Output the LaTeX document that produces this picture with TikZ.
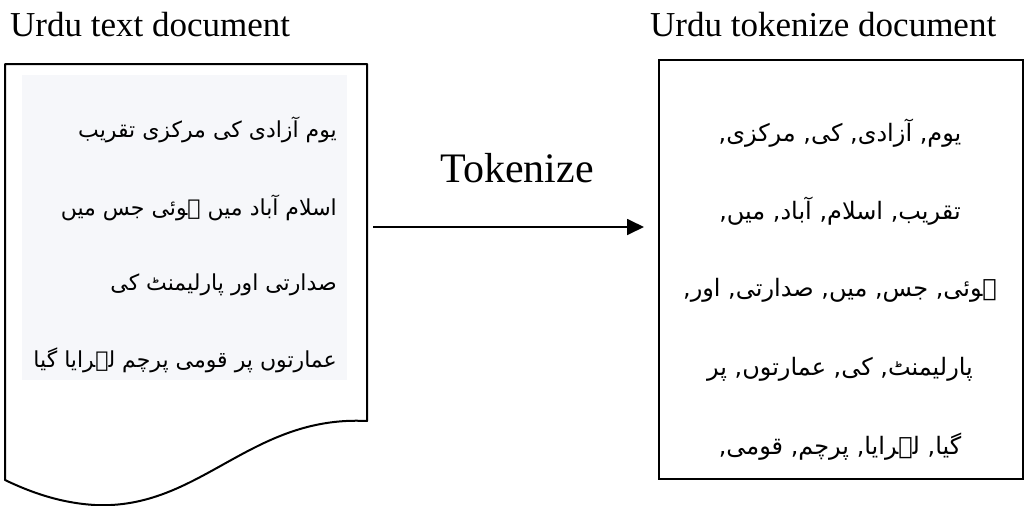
\documentclass[tikz,border=0pt]{standalone}
\usepackage{fontspec}
\setmainfont{Liberation Serif}
\newfontfamily\urdufont[Script=Arabic]{DejaVu Sans}
\TeXXeTstate=1
\usetikzlibrary{arrows.meta}
\definecolor{panelfill}{RGB}{246,247,250}
\begin{document}
\begin{tikzpicture}[x=1pt,y=-1pt,
  title/.style={font=\fontsize{35}{40}\selectfont, inner sep=0pt, anchor=base west},
  opname/.style={font=\fontsize{42}{46}\selectfont, inner sep=0pt, anchor=base},
  srcline/.style={font=\urdufont\fontsize{22}{26}\selectfont, inner sep=0pt},
  tokline/.style={font=\urdufont\fontsize{24}{28}\selectfont, inner sep=0pt},
  docedge/.style={draw=black, line width=2pt, line join=round},
  flow/.style={draw=black, line width=1.8pt, -{Triangle[length=17pt,width=16pt]}}]
\useasboundingbox (0,0) rectangle (1031,506);

% headings
\node[title] (srctitle) at (10,36) {Urdu text document};
\node[title] (dsttitle) at (650,36) {Urdu tokenize document};

% source document with wavy bottom edge
\draw[docedge, fill=white] (5,64) -- (367,64) -- (367,421)
  .. controls (250,415) and (200,510) .. (95,505)
  .. controls (60,503) and (30,492) .. (5,480) -- cycle;
\node[fill=panelfill, minimum width=325pt, minimum height=305pt, inner sep=0pt, anchor=north west]
  (srcpanel) at (22,75) {};
\coordinate (srcdoc-east) at (367,227);

% source text
\node[srcline, anchor=east] (s1) at (337,130) {\beginR یوم آزادی کی مرکزی تقریب\endR};
\node[srcline, anchor=east] (s2) at (337,208) {\beginR اسلام آباد میں ہوئی جس میں\endR};
\node[srcline, anchor=east] (s3) at (337,285) {\beginR صدارتی اور پارلیمنٹ کی\endR};
\node[srcline, anchor=east] (s4) at (337,360) {\beginR عمارتوں پر قومی پرچم لہرایا گیا\endR};

% tokenized document
\node[draw=black, line width=1.5pt, minimum width=364pt, minimum height=419pt, inner sep=0pt, anchor=north west]
  (tokbox) at (658,59) {};
\node[tokline] (t1) at (840,133) {\beginR یوم, آزادی, کی, مرکزی,\endR};
\node[tokline] (t2) at (840,211) {\beginR تقریب, اسلام, آباد, میں,\endR};
\node[tokline] (t3) at (840,290) {\beginR ہوئی, جس, میں, صدارتی, اور,\endR};
\node[tokline] (t4) at (840,369) {\beginR پارلیمنٹ, کی, عمارتوں, پر\endR};
\node[tokline] (t5) at (840,447) {\beginR گیا, لہرایا, پرچم, قومی,\endR};

% tokenize step
\node[opname] (tokenize) at (517,182) {Tokenize};
\draw[flow, shorten <=6pt, shorten >=14pt] (srcdoc-east) -- (tokbox.west |- srcdoc-east);
\end{tikzpicture}
\end{document}
